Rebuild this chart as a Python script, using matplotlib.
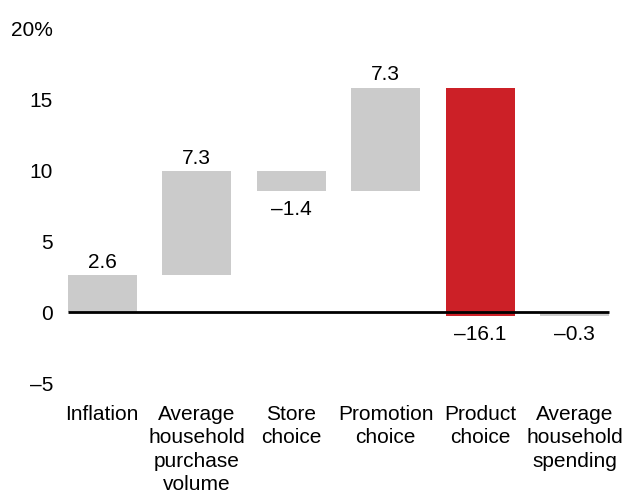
import matplotlib.pyplot as plt
import numpy as np

plt.rcParams['font.family'] = ['Liberation Sans', 'DejaVu Sans']

# waterfall data
categories = ['Inflation', 'Average\nhousehold\npurchase\nvolume', 'Store\nchoice',
              'Promotion\nchoice', 'Product\nchoice', 'Average\nhousehold\nspending']
values = [2.6, 7.3, -1.4, 7.3, -16.1, -0.3]
labels = ['2.6', '7.3', '\u20131.4', '7.3', '\u201316.1', '\u20130.3']
colors = ['#cbcbcb', '#cbcbcb', '#cbcbcb', '#cbcbcb', '#cc2027', '#cbcbcb']
yticks = [-5, 0, 5, 10, 15, 20]
ytick_labels = ['\u20135', '0', '5', '10', '15', '20%']

# bottoms: last bar is the total (starts from 0)
cum = np.cumsum(values)
bottoms = np.concatenate([[0], cum[:-1]])
bottoms[-1] = 0

fs = 15

fig = plt.figure(figsize=(6.24, 4.97), dpi=100)
ax = fig.add_axes([0.0881, 0.195, 0.9087, 0.7772])

x = np.arange(len(values))
w = 0.73
ax.bar(x, values, bottom=bottoms, width=w, color=colors, zorder=2)
ax.hlines(0, x[0] - w / 2, x[-1] + w / 2, color='black', lw=2, zorder=3)

for i in range(len(values)):
    if values[i] >= 0:
        ax.annotate(labels[i], (x[i], bottoms[i] + values[i]), xytext=(0, 5.4),
                    textcoords='offset points', ha='center', va='baseline', fontsize=fs)
    else:
        ax.annotate(labels[i], (x[i], bottoms[i] + values[i]), xytext=(0, -6),
                    textcoords='offset points', ha='center', va='top', fontsize=fs)

ax.set_xlim(-0.5, 5.5)
ax.set_ylim(-6.2, 21)
ax.set_yticks(yticks)
ax.set_yticklabels(ytick_labels, fontsize=fs)
ax.set_xticks(x)
ax.set_xticklabels(categories, fontsize=fs, linespacing=1.3)
ax.tick_params(length=0)
ax.tick_params(axis='y', pad=1.5)
ax.tick_params(axis='x', pad=3.5)
for s in ax.spines.values():
    s.set_visible(False)

fig.savefig('out.png', dpi=100)
